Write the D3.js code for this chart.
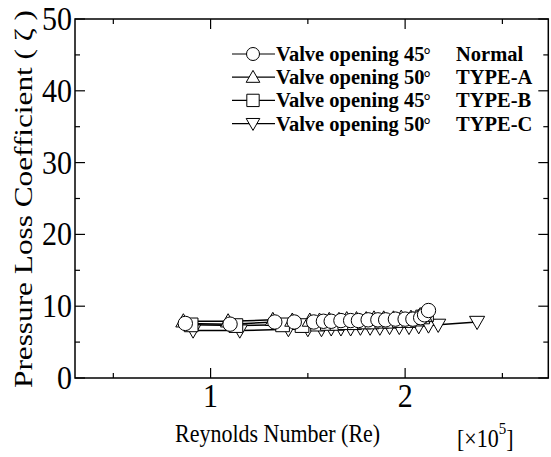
<!DOCTYPE html>
<html><head><meta charset="utf-8">
<script src="https://cdn.jsdelivr.net/npm/d3@7"></script>
<style>body{margin:0;background:#fff}svg{display:block}</style>
</head><body>
<svg id="c" width="551" height="457"></svg>
<script>
// Data (Re in ×10^5, ζ)
const normalRe = [0.87,1.10,1.33,1.43,1.53,1.58,1.62,1.67,1.72,1.76,1.81,1.86,1.90,1.95,2.00,2.04,2.08,2.10,2.12];
const normalZ  = [7.6,7.5,7.8,7.8,7.8,7.9,7.9,8.0,8.0,8.0,8.1,8.1,8.1,8.2,8.2,8.2,8.4,8.8,9.4];
const typeARe  = [0.86,1.09,1.32,1.42,1.51,1.56,1.61,1.66,1.70,1.75,1.80,1.84,1.89,1.94,1.98,2.03,2.07,2.10];
const typeAZ   = [7.9,7.9,8.1,8.0,8.0,8.0,8.1,8.1,8.2,8.2,8.2,8.3,8.3,8.3,8.4,8.4,8.5,8.7];
const typeBRe  = [0.90,1.13,1.37,1.47,1.55,1.60,1.65,1.69,1.74,1.79,1.83,1.88,1.92,1.97,2.02,2.06,2.09,2.11];
const typeBZ   = [7.4,7.3,7.4,7.3,7.5,7.6,7.6,7.7,7.7,7.8,7.8,7.9,7.9,8.0,8.0,8.2,8.5,8.8];
const typeCRe  = [0.91,1.15,1.40,1.50,1.57,1.62,1.67,1.72,1.77,1.82,1.87,1.92,1.97,2.02,2.07,2.12,2.17,2.37];
const typeCZ   = [6.6,6.6,6.8,6.8,6.8,6.9,6.9,6.9,7.0,7.0,7.0,7.1,7.1,7.1,7.2,7.3,7.4,7.8];
const seriesNames = ["Valve opening 45","Valve opening 50","Valve opening 45","Valve opening 50"];
const seriesTypes = ["Normal","TYPE-A","TYPE-B","TYPE-C"];
const xTicks = [1,2];
const yTicks = [0,10,20,30,40,50];

const series = [
  {re:normalRe, z:normalZ, sym:"circle"},
  {re:typeARe, z:typeAZ, sym:"up"},
  {re:typeBRe, z:typeBZ, sym:"square"},
  {re:typeCRe, z:typeCZ, sym:"down"}
];

const FONT = "Liberation Serif, DejaVu Serif, serif";
const svg = d3.select("#c").attr("font-family", FONT);
const L=75, R=548.3, T=19, B=378;
const x = d3.scaleLinear().domain([0.303,2.736]).range([L,R]);
const y = d3.scaleLinear().domain([0,50]).range([B,T]);

function symPath(sym, s){
  if(sym==="circle") return d3.symbol(d3.symbolCircle, Math.PI*s*s)();
  if(sym==="square") { const h=s*0.95; return `M${-h},${-h}H${h}V${h}H${-h}Z`; }
  if(sym==="up") { const h=s*1.05; return `M0,${-h}L${h},${h*0.75}L${-h},${h*0.75}Z`; }
  if(sym==="down") { const h=s*1.05; return `M0,${h}L${h},${-h*0.75}L${-h},${-h*0.75}Z`; }
}

svg.append("rect").attr("x",L).attr("y",T).attr("width",R-L).attr("height",B-T)
  .attr("fill","none").attr("stroke","#000").attr("stroke-width",1.5);

const g = svg.append("g");
d3.range(0.5,2.75,0.5).forEach(v=>{
  const major = Math.abs(v-Math.round(v))<1e-6;
  const len = major?10:5;
  g.append("line").attr("x1",x(v)).attr("x2",x(v)).attr("y1",B).attr("y2",B-len).attr("stroke","#000").attr("stroke-width",1.2);
  g.append("line").attr("x1",x(v)).attr("x2",x(v)).attr("y1",T).attr("y2",T+len).attr("stroke","#000").attr("stroke-width",1.2);
});
d3.range(0,50.1,5).forEach(v=>{
  const major = v%10===0;
  const len = major?10:5;
  g.append("line").attr("x1",L).attr("x2",L+len).attr("y1",y(v)).attr("y2",y(v)).attr("stroke","#000").attr("stroke-width",1.2);
  g.append("line").attr("x1",R).attr("x2",R-len).attr("y1",y(v)).attr("y2",y(v)).attr("stroke","#000").attr("stroke-width",1.2);
});

xTicks.forEach(v=>{
  svg.append("text").attr("transform",`translate(${x(v)},${B+29}) scale(1,1.1)`).attr("text-anchor","middle")
    .attr("font-family",FONT).attr("font-size",30).text(v);
});
yTicks.forEach(v=>{
  svg.append("text").attr("transform",`translate(${L-3},${y(v)+11}) scale(1,1.1)`).attr("text-anchor","end")
    .attr("font-family",FONT).attr("font-size",30).text(v);
});

svg.append("text").attr("transform","translate(175,442) scale(1,1.15)").attr("font-family",FONT).attr("font-size",22)
  .text("Reynolds Number  (Re)");
const ex = svg.append("text").attr("transform","translate(457,447) scale(1,1.15)").attr("font-family",FONT).attr("font-size",22);
ex.append("tspan").text("[×10");
ex.append("tspan").attr("dy",-11).attr("font-size",15).text("5");
ex.append("tspan").attr("dy",11).text("]");

svg.append("text").attr("transform","translate(32,388) rotate(-90)").attr("font-family",FONT).attr("font-size",25)
  .attr("textLength",378).attr("lengthAdjust","spacingAndGlyphs").text("Pressure Loss Coefficient  ( ζ )");

const order = [3,2,1,0];
const plot = svg.append("g");
order.forEach(i=>{
  const s = series[i];
  const pts = s.re.map((r,j)=>[x(r), y(s.z[j])]);
  plot.append("path").attr("d", d3.line()(pts)).attr("fill","none").attr("stroke","#000").attr("stroke-width",1.5);
});
order.forEach(i=>{
  const s = series[i];
  s.re.forEach((r,j)=>{
    plot.append("path").attr("d",symPath(s.sym,7.2))
      .attr("transform",`translate(${x(r)},${y(s.z[j])})`)
      .attr("fill","#fff").attr("stroke","#000").attr("stroke-width",1);
  });
});

series.forEach((s,i)=>{
  const cy = 54 + i*23.2;
  svg.append("line").attr("x1",232).attr("x2",275).attr("y1",cy).attr("y2",cy).attr("stroke","#000").attr("stroke-width",1.2);
  svg.append("path").attr("d",symPath(s.sym,6.5)).attr("transform",`translate(253,${cy})`)
    .attr("fill","#fff").attr("stroke","#000").attr("stroke-width",1);
  const t = svg.append("text").attr("x",276).attr("y",cy+7).attr("font-family",FONT).attr("font-weight","bold")
    .attr("font-size",20.5);
  t.append("tspan").text(seriesNames[i]);
  t.append("tspan").attr("dx",-1).attr("font-size",18).text("°");
  svg.append("text").attr("x",456).attr("y",cy+7).attr("font-family",FONT).attr("font-weight","bold")
    .attr("font-size",20.5).text(seriesTypes[i]);
});
</script>
</body></html>
